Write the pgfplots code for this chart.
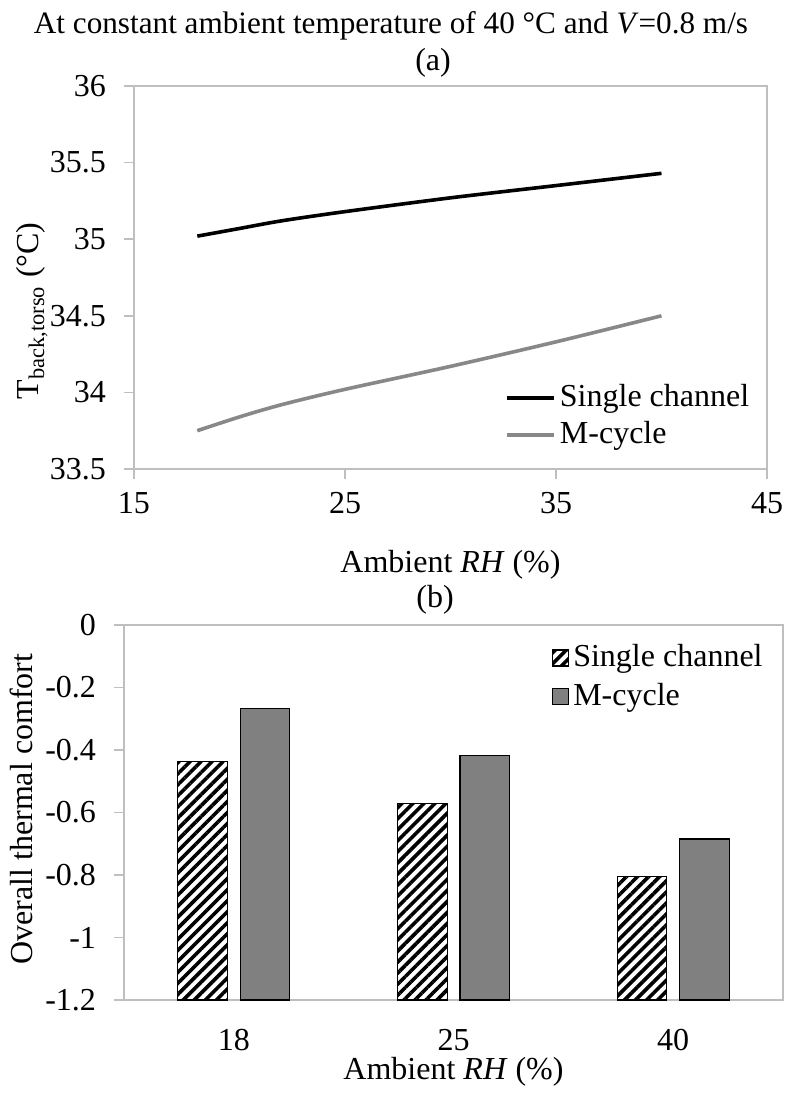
\documentclass[border=0pt]{standalone}
\usepackage{fontspec}
\setmainfont{Liberation Serif}
\usepackage{pgfplots}
\pgfplotsset{compat=1.18}
\usetikzlibrary{patterns.meta}

\definecolor{framegray}{RGB}{191,191,191}
\definecolor{bargray}{RGB}{128,128,128}
\definecolor{linegray}{RGB}{136,136,136}

\pgfplotsset{
  excel/.style={
    scale only axis,
    axis line style={framegray, line width=0.8pt},
    tick style={framegray, line width=0.8pt},
    tick align=outside,
    tick pos=left,
    major tick length=5pt,
    minor tick length=5pt,
    font=\fontsize{16}{19.2}\selectfont,
    /pgf/number format/assume math mode=true,
    legend cell align=left,
  },
}

\begin{document}
\begin{tikzpicture}
\fontsize{16}{19.2}\selectfont
\path[use as bounding box] (0,0) rectangle (393.5pt,-547.5pt);

\node[font=\fontsize{15.6}{18}\selectfont] at (195.5pt,-13pt)
  {At constant ambient temperature of 40 °C and \textit{V}=0.8 m/s};
\node at (216.5pt,-31.5pt) {(a)};
\node at (217.5pt,-300pt) {(b)};

% (a) back torso temperature
\begin{axis}[
  excel,
  at={(67pt,-234.5pt)}, anchor=south west,
  width=316.5pt, height=191.5pt,
  xmin=15, xmax=45, ymin=33.5, ymax=36,
  xtick={15,25,35,45},
  ytick={33.5,34,34.5,35,35.5,36},
  xticklabel shift=1pt,
  yticklabel shift=3.5pt,
  xlabel={Ambient \textit{RH} (\%)},
  ylabel={T\textsubscript{back,torso} (°C)},
  xlabel style={at={(rel axis cs:0.5,-0.251)}, anchor=center},
  ylabel style={at={(rel axis cs:-0.161,0.413)}, anchor=center},
  legend style={draw=none, fill=none, at={(0.586,0.232)}, anchor=north west,
    inner sep=0pt, row sep=1pt},
  legend image code/.code={\draw[#1] (0pt,0pt) -- (23.5pt,0pt);},
]
\addplot[black, line width=1.8pt, smooth] coordinates {
  (18,35.02) (20,35.07) (22,35.12) (25,35.18) (30,35.27) (35,35.35) (40,35.43)
};
\addlegendentry{Single channel}
\addplot[linegray, line width=1.8pt, smooth] coordinates {
  (18,33.75) (20,33.84) (22,33.92) (25,34.02) (30,34.17) (35,34.33) (40,34.50)
};
\addlegendentry{M-cycle}
\end{axis}

% (b) overall thermal comfort, bars rising from -1.2
\begin{axis}[
  excel,
  at={(62pt,-500pt)}, anchor=south west,
  width=329.5pt, height=187.5pt,
  xmin=-0.5, xmax=2.5, ymin=-1.2, ymax=0,
  y coord trafo/.code={\pgfmathparse{#1+1.2}},
  y coord inv trafo/.code={\pgfmathparse{#1-1.2}},
  xtick={0,1,2},
  xticklabels={18,25,40},
  x tick style={draw=none},
  minor xtick={-0.5,0.5,1.5,2.5},
  ytick={-1.2,-1,-0.8,-0.6,-0.4,-0.2,0},
  yticklabels={-1.2,-1,-0.8,-0.6,-0.4,-0.2,0},
  xticklabel shift=4pt,
  yticklabel shift=3.5pt,
  xlabel={Ambient \textit{RH} (\%)},
  ylabel={Overall thermal comfort},
  xlabel style={at={(rel axis cs:0.5,-0.192)}, anchor=center},
  ylabel style={at={(rel axis cs:-0.155,0.509)}, anchor=center},
  legend style={draw=none, fill=none, at={(0.649,0.96)}, anchor=north west,
    inner sep=0pt, row sep=1.8pt},
  legend image code/.code={\draw[#1] (0pt,-4pt) rectangle (8pt,4pt);},
]
\addplot[ybar, bar width=24.8pt, bar shift=-15.6pt, draw=black, line width=0.6pt,
  pattern={Lines[angle=45,distance=3.9pt,line width=1.8pt]}, pattern color=black]
  coordinates {(0,-0.437) (1,-0.571) (2,-0.805)};
\addlegendentry{Single channel}
\addplot[ybar, bar width=24.8pt, bar shift=15.6pt, draw=black, line width=0.6pt,
  fill=bargray]
  coordinates {(0,-0.267) (1,-0.418) (2,-0.685)};
\addlegendentry{M-cycle}
\end{axis}
\end{tikzpicture}
\end{document}
